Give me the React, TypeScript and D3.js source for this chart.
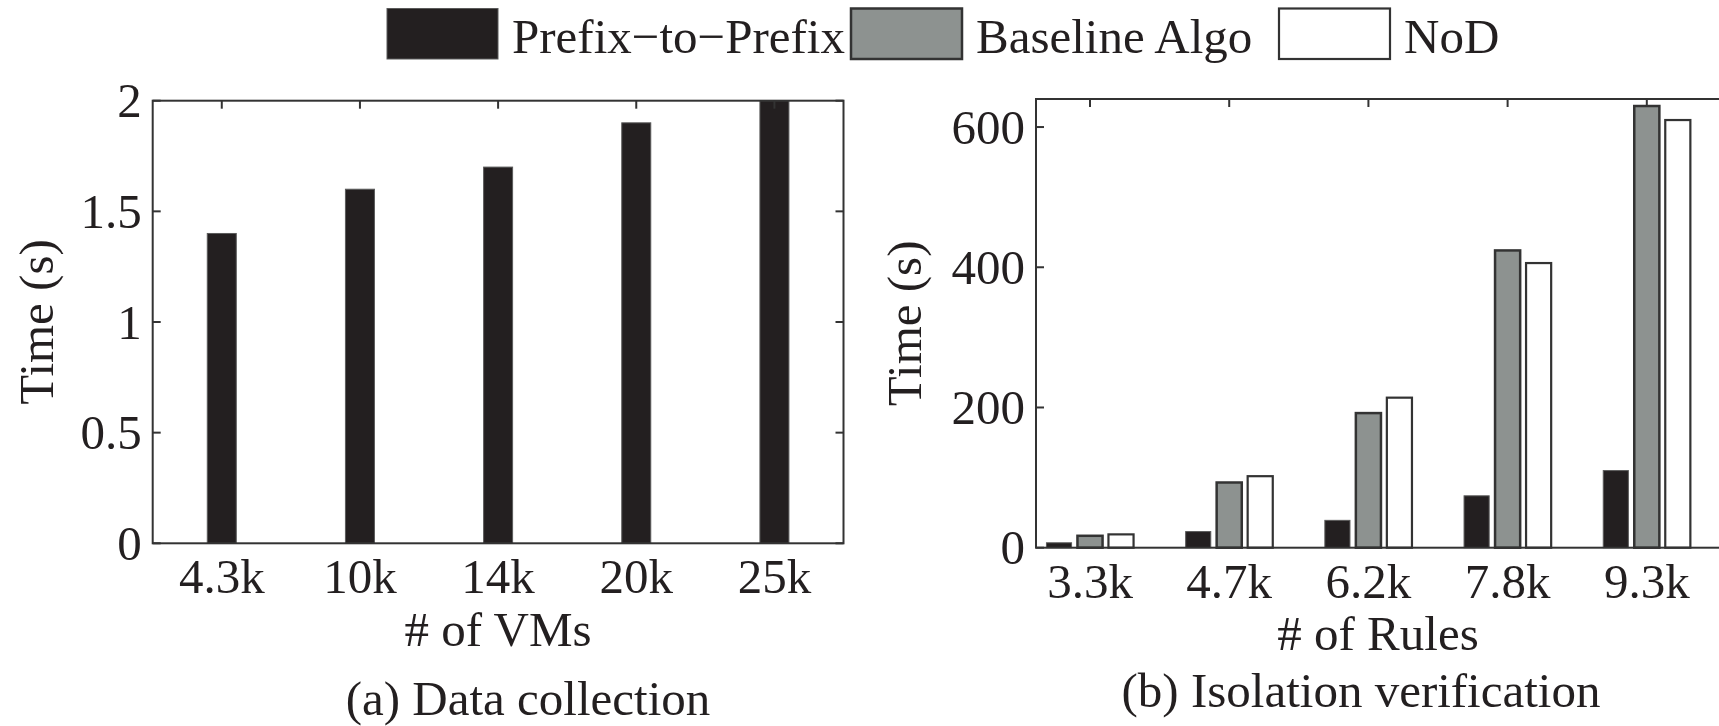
import React, { useEffect, useRef } from 'react'
import * as d3 from 'd3'

// panel (a): data collection
const vmLabels = ['4.3k', '10k', '14k', '20k', '25k']
const collectTime = [1.4, 1.6, 1.7, 1.9, 2.0]
const collectTicks = [0, 0.5, 1, 1.5, 2]

// panel (b): isolation verification
const ruleLabels = ['3.3k', '4.7k', '6.2k', '7.8k', '9.3k']
const seriesNames = ['Prefix\u2212to\u2212Prefix', 'Baseline Algo', 'NoD']
const prefixTime = [7, 23, 39, 74, 110]
const baselineTime = [17, 93, 192, 424, 630]
const nodTime = [19, 102, 214, 406, 610]
const verifyTicks = [0, 200, 400, 600]

const FONT = "'Liberation Serif', 'Times New Roman', serif"
const FS = 49
const INK = '#231f20'
const fills = ['#231f20', '#8d9290', '#ffffff']
const strokes = ['#5a5a5a', '#333333', '#333333']
const strokeW = [1, 2.5, 2.2]

function App() {
    const ref = useRef<SVGSVGElement>(null)

    useEffect(() => {
        const svg = d3.select(ref.current)
        svg.selectAll('*').remove()

        // ---------- legend ----------
        const legendX = [387, 851, 1279]
        const leg = svg.append('g')
        seriesNames.forEach((name, i) => {
            leg.append('rect')
                .attr('x', legendX[i]).attr('y', 8.5)
                .attr('width', 111).attr('height', 50.5)
                .attr('fill', fills[i]).attr('stroke', strokes[i]).attr('stroke-width', strokeW[i])
            leg.append('text')
                .attr('x', legendX[i] + 125).attr('y', 52.5)
                .attr('font-family', FONT).attr('font-size', FS).attr('fill', INK)
                .text(name)
        })

        // ---------- panel (a) ----------
        const a = { left: 152.7, right: 843.5, top: 100.7, bottom: 543.3 }
        const xa = d3.scaleLinear().domain([0.5, 5.5]).range([a.left, a.right])
        const ya = d3.scaleLinear().domain([0, 2]).range([a.bottom, a.top])
        const ga = svg.append('g')

        ga.selectAll('.bar_a').data(collectTime).join('rect')
            .attr('class', 'bar_a')
            .attr('x', (d, i) => xa(i + 1) - 14.5)
            .attr('y', d => ya(d))
            .attr('width', 29)
            .attr('height', d => ya(0) - ya(d))
            .attr('fill', fills[0]).attr('stroke', strokes[0]).attr('stroke-width', 1)

        drawFrame(ga, a, collectTicks.map(t => ya(t)), vmLabels.map((_, i) => xa(i + 1)))

        ga.selectAll('.ytick_a').data(collectTicks).join('text')
            .attr('class', 'ytick_a')
            .attr('x', a.left - 11).attr('y', d => ya(d)).attr('dy', '0.34em')
            .attr('text-anchor', 'end')
            .attr('font-family', FONT).attr('font-size', FS).attr('fill', INK)
            .text(d => d3.format('~g')(d))

        ga.selectAll('.xtick_a').data(vmLabels).join('text')
            .attr('class', 'xtick_a')
            .attr('x', (d, i) => xa(i + 1)).attr('y', a.bottom + 50)
            .attr('text-anchor', 'middle')
            .attr('font-family', FONT).attr('font-size', FS).attr('fill', INK)
            .text(d => d)

        label(ga, (a.left + a.right) / 2, a.bottom + 103, '# of VMs')
        label(ga, 528, 715, '(a) Data collection')
        label(ga, 53, (a.top + a.bottom) / 2, 'Time (s)', true)

        // ---------- panel (b) ----------
        // the right edge of this axes falls outside the picture
        const b = { left: 1036, right: 1732, top: 99, bottom: 547.7 }
        const xb = d3.scaleLinear().domain([0.612, 5.612]).range([b.left, b.left + 696])
        const yb = d3.scaleLinear().domain([0, 640]).range([b.bottom, b.top])
        const sub = d3.scaleBand<number>().domain([0, 1, 2]).range([-46.5, 46.5])
            .paddingInner(0.19).paddingOuter(0.095)
        const gb = svg.append('g')

        const series = [prefixTime, baselineTime, nodTime]
        const cells = series.flatMap((vals, s) => vals.map((v, i) => ({ s, i, v })))

        gb.selectAll('.bar_b').data(cells).join('rect')
            .attr('class', 'bar_b')
            .attr('x', d => xb(d.i + 1) + (sub(d.s) as number))
            .attr('y', d => yb(d.v))
            .attr('width', sub.bandwidth())
            .attr('height', d => yb(0) - yb(d.v))
            .attr('fill', d => fills[d.s])
            .attr('stroke', d => strokes[d.s])
            .attr('stroke-width', d => strokeW[d.s])

        drawFrame(gb, b, verifyTicks.map(t => yb(t)), ruleLabels.map((_, i) => xb(i + 1)))

        gb.selectAll('.ytick_b').data(verifyTicks).join('text')
            .attr('class', 'ytick_b')
            .attr('x', b.left - 11).attr('y', d => yb(d)).attr('dy', '0.34em')
            .attr('text-anchor', 'end')
            .attr('font-family', FONT).attr('font-size', FS).attr('fill', INK)
            .text(d => d)

        gb.selectAll('.xtick_b').data(ruleLabels).join('text')
            .attr('class', 'xtick_b')
            .attr('x', (d, i) => xb(i + 1)).attr('y', b.bottom + 50)
            .attr('text-anchor', 'middle')
            .attr('font-family', FONT).attr('font-size', FS).attr('fill', INK)
            .text(d => d)

        label(gb, 1378, b.bottom + 102, '# of Rules')
        label(gb, 1361, 707, '(b) Isolation verification')
        label(gb, 921.5, (b.top + b.bottom) / 2, 'Time (s)', true)
    }, [])

    return (
        <div style={{ position: 'absolute', left: 0, top: 0 }}>
            <svg ref={ref} width={1719} height={726} style={{ display: 'block', background: '#fff' }} />
        </div>
    )
}

// box around the axes with inward ticks on all four sides
function drawFrame(g: any, r: any, yTicks: number[], xTicks: number[]) {
    const tl = 8
    const c = '#333333'
    g.append('rect')
        .attr('x', r.left).attr('y', r.top)
        .attr('width', r.right - r.left).attr('height', r.bottom - r.top)
        .attr('fill', 'none').attr('stroke', c).attr('stroke-width', 2)
    yTicks.forEach(y => {
        g.append('line').attr('x1', r.left).attr('x2', r.left + tl).attr('y1', y).attr('y2', y)
            .attr('stroke', c).attr('stroke-width', 2)
        g.append('line').attr('x1', r.right).attr('x2', r.right - tl).attr('y1', y).attr('y2', y)
            .attr('stroke', c).attr('stroke-width', 2)
    })
    xTicks.forEach(x => {
        g.append('line').attr('x1', x).attr('x2', x).attr('y1', r.top).attr('y2', r.top + tl)
            .attr('stroke', c).attr('stroke-width', 2)
    })
}

function label(g: any, x: number, y: number, txt: string, rotate = false) {
    const t = g.append('text')
        .attr('x', x).attr('y', y)
        .attr('text-anchor', 'middle')
        .attr('font-family', FONT).attr('font-size', FS).attr('fill', INK)
        .text(txt)
    if (rotate) t.attr('transform', `rotate(-90, ${x}, ${y})`)
}

export default App
